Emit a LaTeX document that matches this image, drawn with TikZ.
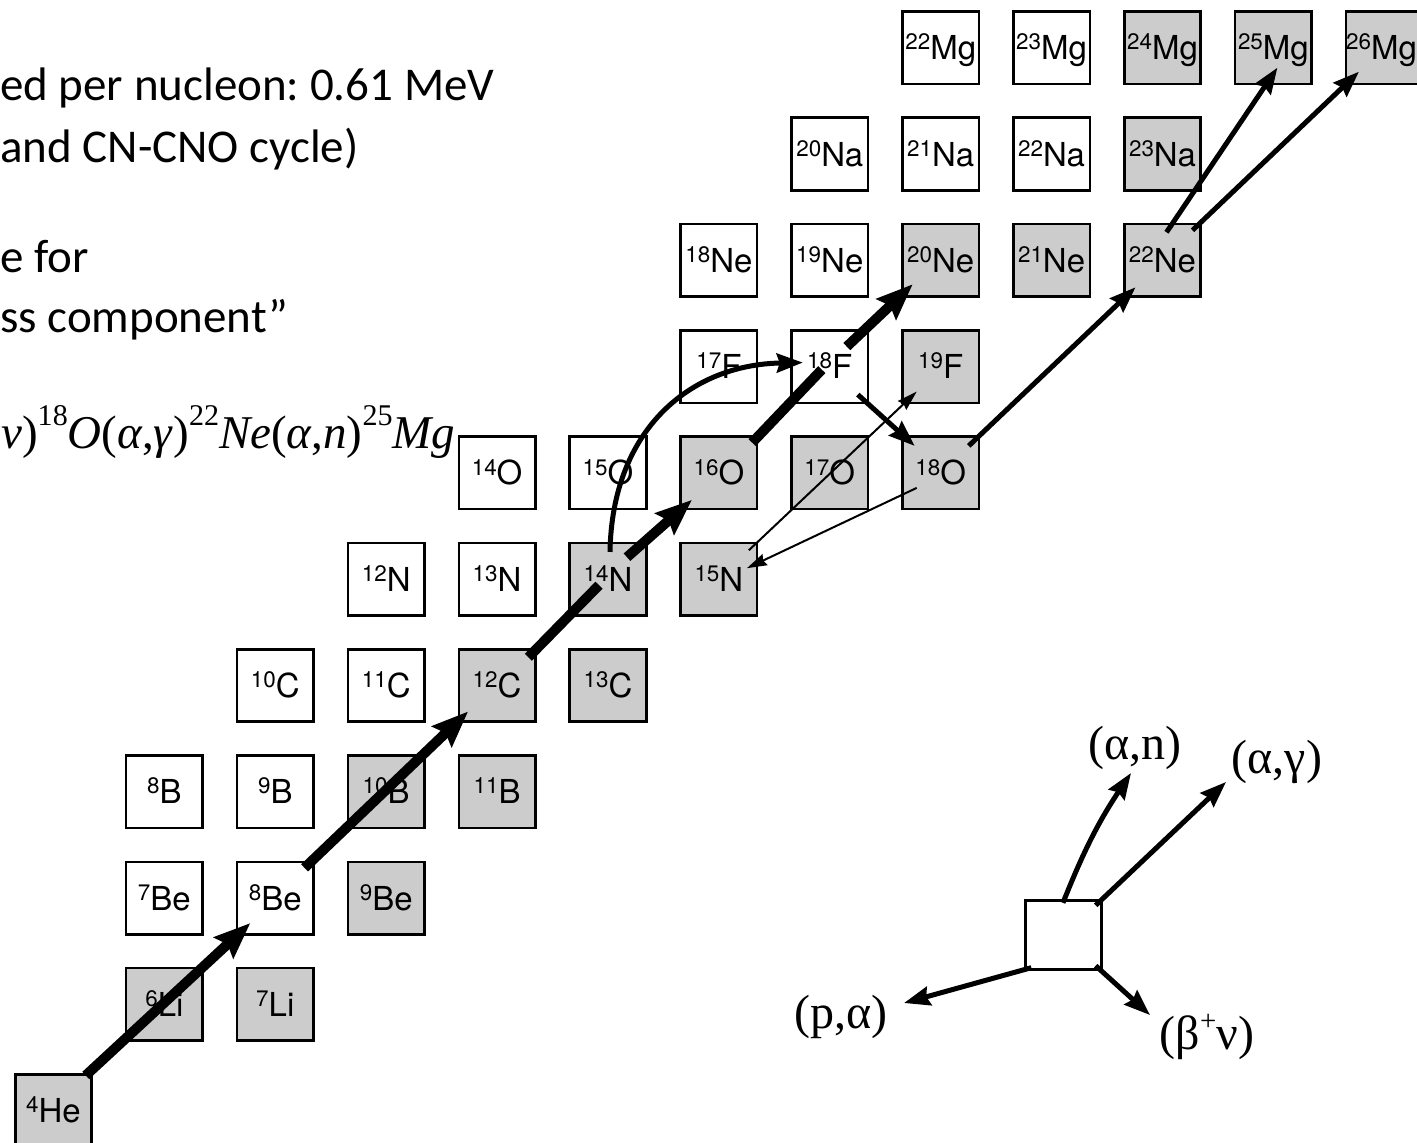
\documentclass[tikz,border=0pt]{standalone}
\usepackage{fontspec}
\usepackage{graphicx}
\usetikzlibrary{arrows.meta, positioning}

\newfontfamily\slidefont{Carlito}
\newfontfamily\chartfont{TeX Gyre Heros}
\newfontfamily\eqfont{Liberation Serif}

\definecolor{stablegray}{RGB}{204,204,204}

\newcommand{\massno}[1]{\raisebox{.3em}{\scalebox{.68}{#1}}}
\newcommand{\eqmass}[1]{\raisebox{.48em}{\scalebox{.64}{#1}}}
\frenchspacing

\tikzstyle{isotope} = [
    rectangle,
    minimum width=76.5pt,
    minimum height=72.5pt,
    inner sep=0pt,
    outer sep=0pt,
    line width=2.6pt,
    draw=black,
    fill=white,
    text height=24pt,
    text depth=0pt,
    font=\chartfont\fontsize{33}{40}\selectfont
]
\tikzstyle{stable} = [isotope, fill=stablegray]
\tikzstyle{keybox} = [
    rectangle,
    minimum width=76.4pt,
    minimum height=69.4pt,
    outer sep=0pt,
    line width=2.6pt,
    draw=black
]
\tikzstyle{slidetext} = [
    anchor=base west,
    inner sep=0pt,
    font=\slidefont\fontsize{47}{55}\selectfont
]
\tikzstyle{keylabel} = [inner sep=0pt, font=\eqfont\fontsize{48}{56}\selectfont]
\tikzstyle{heavyline} = [line width=10pt]
\tikzstyle{heavyarrow} = [heavyline, -{Stealth[length=36pt, width=28pt, inset=5pt]}]
\tikzstyle{reactarrow} = [line width=5pt, -{Stealth[length=26pt, width=19pt, inset=3pt]}]
\tikzstyle{thinarrow} = [line width=2pt, -{Stealth[length=20pt, width=12pt, inset=2pt]}]

\begin{document}
\begin{tikzpicture}[x=1pt, y=-1pt, node distance=33.8pt and 34.4pt]
\useasboundingbox (0,0) rectangle (1417,1143);
\clip (0,0) rectangle (1417,1143);

% slide text
\node (energy) [slidetext] at (0,100) {ed per nucleon: 0.61 MeV};
\node (cycles) [slidetext] at (0,162) {and CN-CNO cycle)};
\node (source) [slidetext] at (0,272) {e for};
\node (sprocess) [slidetext] at (0,332) {ss component”};
\node (chain) [anchor=base west, inner sep=0pt,
    font=\eqfont\fontsize{47}{55}\selectfont] at (1,448)
{\textit{ν})\eqmass{18}\textit{O}(\textit{α},\textit{γ})\eqmass{22}\textit{Ne}(\textit{α},\textit{n})\eqmass{25}\textit{Mg}};

% chart of nuclides
\node (he4) [stable] at (53.5,1110.7) {\massno{4}He};
\node (li6) [stable, above right=of he4] {\massno{6}Li};
\node (li7) [stable, right=of li6] {\massno{7}Li};
\node (be7) [isotope, above=of li6] {\massno{7}Be};
\node (be8) [isotope, right=of be7] {\massno{8}Be};
\node (be9) [stable, right=of be8] {\massno{9}Be};
\node (b8) [isotope, above=of be7] {\massno{8}B};
\node (b9) [isotope, right=of b8] {\massno{9}B};
\node (b10) [stable, right=of b9] {\massno{10}B};
\node (b11) [stable, right=of b10] {\massno{11}B};
\node (c10) [isotope, above=of b9] {\massno{10}C};
\node (c11) [isotope, right=of c10] {\massno{11}C};
\node (c12) [stable, right=of c11] {\massno{12}C};
\node (c13) [stable, right=of c12] {\massno{13}C};
\node (n12) [isotope, above=of c11] {\massno{12}N};
\node (n13) [isotope, right=of n12] {\massno{13}N};
\node (n14) [stable, right=of n13] {\massno{14}N};
\node (n15) [stable, right=of n14] {\massno{15}N};
\node (o14) [isotope, above=of n13] {\massno{14}O};
\node (o15) [isotope, right=of o14] {\massno{15}O};
\node (o16) [stable, right=of o15] {\massno{16}O};
\node (o17) [stable, right=of o16] {\massno{17}O};
\node (o18) [stable, right=of o17] {\massno{18}O};
\node (f17) [isotope, above=of o16] {\massno{17}F};
\node (f18) [isotope, right=of f17] {\massno{18}F};
\node (f19) [stable, right=of f18] {\massno{19}F};
\node (ne18) [isotope, above=of f17] {\massno{18}Ne};
\node (ne19) [isotope, right=of ne18] {\massno{19}Ne};
\node (ne20) [stable, right=of ne19] {\massno{20}Ne};
\node (ne21) [stable, right=of ne20] {\massno{21}Ne};
\node (ne22) [stable, right=of ne21] {\massno{22}Ne};
\node (na20) [isotope, above=of ne19] {\massno{20}Na};
\node (na21) [isotope, right=of na20] {\massno{21}Na};
\node (na22) [isotope, right=of na21] {\massno{22}Na};
\node (na23) [stable, right=of na22] {\massno{23}Na};
\node (mg22) [isotope, above=of na21] {\massno{22}Mg};
\node (mg23) [isotope, right=of mg22] {\massno{23}Mg};
\node (mg24) [stable, right=of mg23] {\massno{24}Mg};
\node (mg25) [stable, right=of mg24] {\massno{25}Mg};
\node (mg26) [stable, right=of mg25] {\massno{26}Mg\kern9pt};

% helium burning
\draw [heavyarrow] ([shift={(-6,1)}]he4.north east) -- ([shift={(-25,25)}]be8.center);
\draw [heavyarrow] ([shift={(-9,6)}]be8.north east) -- ([shift={(-29,26)}]c12.center);
\draw [heavyline] ([shift={(-7,8)}]c12.north east) -- ([shift={(-9,6)}]n14.center);
\draw [heavyarrow] ([shift={(19,-22)}]n14.center) -- ([shift={(-27,27)}]o16.center);
\draw [heavyline] ([shift={(-5,6)}]o16.north east) -- ([shift={(-8,3)}]f18.center);
\draw [heavyarrow] ([shift={(17,-20)}]f18.center) -- ([shift={(-28,24)}]ne20.center);

% neutron source
\draw [reactarrow] ([shift={(2,9)}]n14.north)
    .. controls +(2,-122) and +(-113,2) .. ([shift={(-27,-4)}]f18.center);
\draw [reactarrow] ([shift={(28,28)}]f18.center) -- ([shift={(-26,-27)}]o18.center);
\draw [reactarrow] ([shift={(28,-27)}]o18.center) -- ([shift={(-27,27)}]ne22.center);
\draw [reactarrow] ([shift={(4,-28)}]ne22.center) -- ([shift={(4,20)}]mg25.center);
\draw [reactarrow] ([shift={(30,-30)}]ne22.center) -- ([shift={(-27,24)}]mg26.center);

% cno side branches
\draw [thinarrow] ([shift={(30,-29)}]n15.center) -- ([shift={(-24,25)}]f19.center);
\draw [thinarrow] ([shift={(-24,15)}]o18.center) -- ([shift={(28,-11)}]n15.center);

% key
\node (key) [keybox] at (1063.5,935) {};
\node (an) [keylabel] at (1135,748) {(α,n)};
\node (ag) [keylabel] at (1277,762) {(α,γ)};
\node (pa) [keylabel] at (841,1017) {(p,α)};
\node (bn) [keylabel] at (1207,1037) {(β\raisebox{.4em}{\scalebox{.6}{+}}ν)};
\draw [reactarrow] ([shift={(-0.5,2.5)}]key.north) to[bend left=6] ([shift={(-4,25)}]an.center);
\draw [reactarrow] ([shift={(-6,5)}]key.north east) -- ([shift={(-51,20)}]ag.center);
\draw [reactarrow] ([shift={(6,-2)}]key.south west) -- ([shift={(63,-14)}]pa.center);
\draw [reactarrow] ([shift={(-6,-4)}]key.south east) -- ([shift={(-57,-22)}]bn.center);

\end{tikzpicture}
\end{document}
